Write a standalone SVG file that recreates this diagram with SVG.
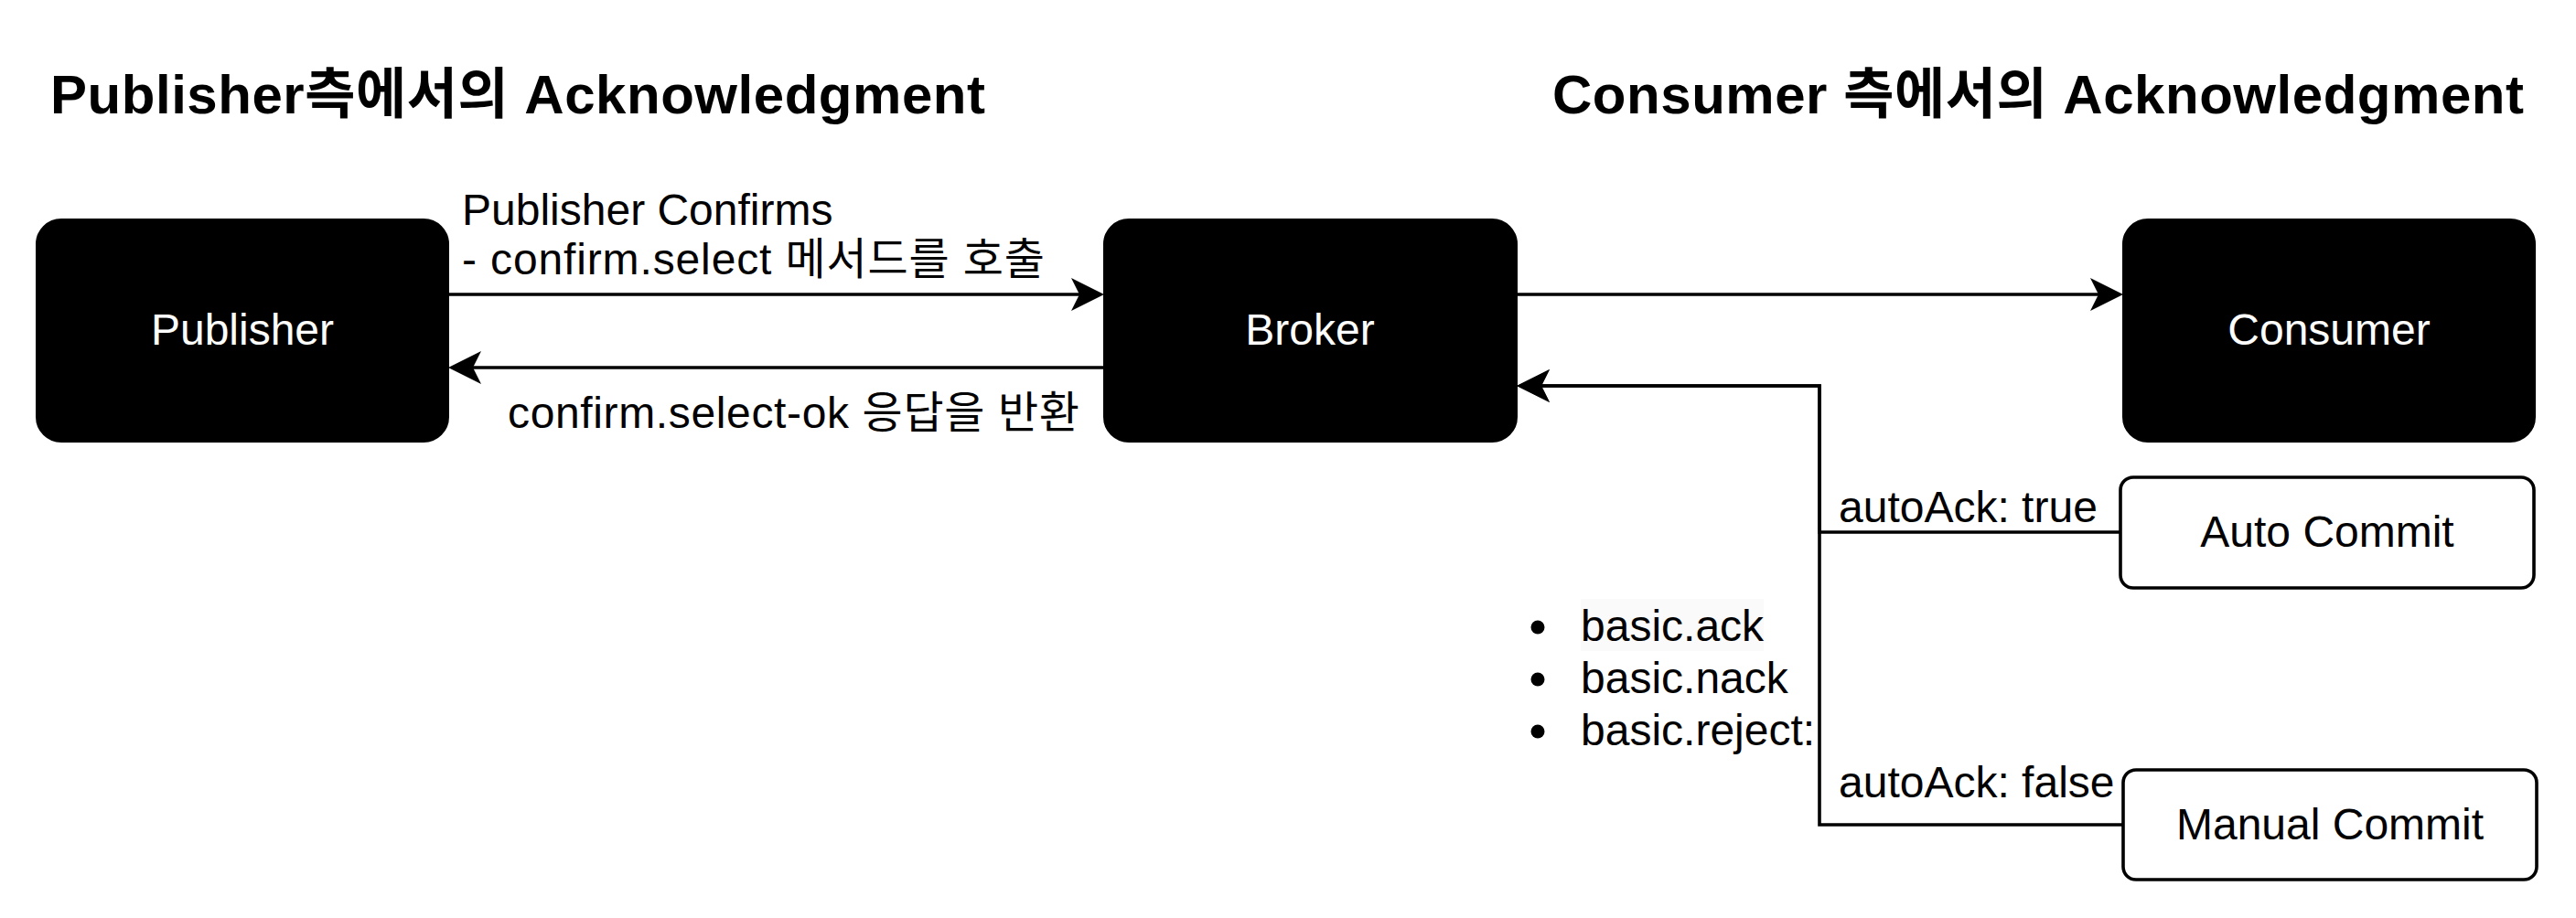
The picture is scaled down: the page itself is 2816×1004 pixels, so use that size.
<svg xmlns="http://www.w3.org/2000/svg" width="2816" height="1004" viewBox="0 0 2816 1004">
  <style>
    text { font-family: "Liberation Sans", "Noto Sans CJK KR", sans-serif; }
    .title { font-size: 60px; font-weight: bold; fill: #000; }
    .lbl { font-size: 48px; fill: #000; }
    .nodelbl { font-size: 48px; fill: #fff; text-anchor: middle; }
    .sublbl { font-size: 48px; fill: #000; text-anchor: middle; }
    .dark { fill: #000; stroke: #000; stroke-width: 2; }
    .light { fill: #fff; stroke: #000; stroke-width: 3.6; }
    .edge { fill: none; stroke: #000; stroke-width: 3.6; }
  </style>
  <defs>
    <marker id="arrow" markerUnits="userSpaceOnUse" markerWidth="36" markerHeight="38" viewBox="0 0 36 38" refX="9" refY="19" orient="auto">
      <path d="M36,19 L0,1 L9,19 L0,37 Z" fill="#000"/>
    </marker>
  </defs>
  <rect width="2816" height="1004" fill="#fff"/>

  <g id="title-publisher">
    <text class="title" x="55" y="124" textLength="1022" lengthAdjust="spacing">Publisher측에서의 Acknowledgment</text>
  </g>
  <g id="title-consumer">
    <text class="title" x="1697" y="124" textLength="1062" lengthAdjust="spacing">Consumer 측에서의 Acknowledgment</text>
  </g>

  <g id="connectors">
    <path class="edge" d="M490,322 H1180" marker-end="url(#arrow)"/>
    <path class="edge" d="M1207,402 H517" marker-end="url(#arrow)"/>
    <path class="edge" d="M1658,322 H2294" marker-end="url(#arrow)"/>
    <path class="edge" d="M2318,582 H1989 V422 H1685" marker-end="url(#arrow)"/>
    <path class="edge" d="M2321,902 H1989 V422 H1685" marker-end="url(#arrow)"/>
    <text class="lbl" x="505" y="246">Publisher Confirms</text>
    <text class="lbl" x="505" y="300" textLength="637" lengthAdjust="spacing">- confirm.select 메서드를 호출</text>
    <text class="lbl" x="555" y="468" textLength="625" lengthAdjust="spacing">confirm.select-ok 응답을 반환</text>
    <text class="lbl" x="2010" y="571">autoAck: true</text>
    <text class="lbl" x="2010" y="872">autoAck: false</text>
  </g>

  <g id="publisher">
    <rect class="dark" x="40" y="240" width="450" height="243" rx="27"/>
    <text class="nodelbl" x="265" y="377">Publisher</text>
  </g>
  <g id="broker">
    <rect class="dark" x="1207" y="240" width="451" height="243" rx="27"/>
    <text class="nodelbl" x="1432" y="377">Broker</text>
  </g>
  <g id="consumer">
    <rect class="dark" x="2321" y="240" width="450" height="243" rx="27"/>
    <text class="nodelbl" x="2546" y="377">Consumer</text>
  </g>
  <g id="auto-commit">
    <rect class="light" x="2318" y="522" width="452" height="121" rx="14"/>
    <text class="sublbl" x="2544" y="598">Auto Commit</text>
  </g>
  <g id="manual-commit">
    <rect class="light" x="2321" y="842" width="452" height="120" rx="14"/>
    <text class="sublbl" x="2547" y="918">Manual Commit</text>
  </g>

  <g id="ack-list">
    <rect x="1728" y="655" width="200" height="57" fill="#fafafa"/>
    <circle cx="1681" cy="686" r="7.5"/>
    <circle cx="1681" cy="743" r="7.5"/>
    <circle cx="1681" cy="800" r="7.5"/>
    <text class="lbl" x="1728" y="701">basic.ack</text>
    <text class="lbl" x="1728" y="758">basic.nack</text>
    <text class="lbl" x="1728" y="815">basic.reject:</text>
  </g>
</svg>
